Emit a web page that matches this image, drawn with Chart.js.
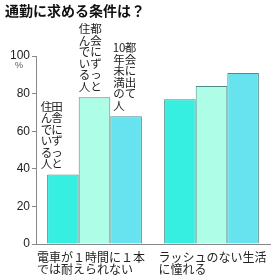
<!DOCTYPE html>
<html>
<head>
<meta charset="utf-8">
<script src="https://cdn.jsdelivr.net/npm/chart.js@4.4.1/dist/chart.umd.min.js"></script>
<style>
  html, body { margin: 0; padding: 0; background: #fff; }
  #wrap { position: relative; width: 280px; height: 280px; }
</style>
</head>
<body>
<div id="wrap"><canvas id="chart" width="280" height="280"></canvas></div>
<script>
    // Chart data
    const title = '通勤に求める条件は？';
    const categories = [
        ['電車が１時間に１本', 'では耐えられない'],
        ['ラッシュのない生活', 'に憧れる']
    ];
    const seriesNames = [
        ['田舎にずっと', '住んでいる人'],
        ['都会にずっと', '住んでいる人'],
        ['都会に出て', '10年未満の人']
    ];
    const inakaValues = [37, 77];
    const tokaiValues = [78, 84];
    const shinkiValues = [68, 91];
    const yTicks = [0, 20, 40, 60, 80, 100];

    const jpFont = '"Noto Sans CJK JP", "Noto Sans", sans-serif';
    const colors = ['#36efe0', '#aefde6', '#66e3ef'];

    // Title, % unit, x labels and vertical series labels
    const textPlugin = {
        id: 'texts',
        afterDraw(chart) {
            const ctx = chart.ctx;
            const xScale = chart.scales.x;
            ctx.save();

            ctx.fillStyle = '#111';
            ctx.font = 'bold 14px ' + jpFont;
            ctx.textAlign = 'left';
            ctx.textBaseline = 'middle';
            ctx.fillText(title, 5, 11);

            ctx.fillStyle = '#555';
            ctx.font = '9px "Liberation Sans", sans-serif';
            ctx.textAlign = 'center';
            ctx.fillText('%', 19, 66);

            // category labels, left aligned
            ctx.fillStyle = '#222';
            ctx.font = '12px ' + jpFont;
            ctx.textAlign = 'left';
            const labelShift = [-57.5, -53];
            categories.forEach((lines, i) => {
                const cx = xScale.getPixelForValue(i);
                lines.forEach((line, j) => {
                    ctx.fillText(line, cx + labelShift[i], 257 + j * 12);
                });
            });

            // vertical labels above the first group of bars
            ctx.font = '11.5px ' + jpFont;
            ctx.textAlign = 'center';
            const colShift = [[-6, -16.5], [1.5, -10], [4.5, -7]];
            const step = 11.5;
            seriesNames.forEach((cols, d) => {
                const bar = chart.getDatasetMeta(d).data[0];
                const cells = cols.map(c => c.match(/\d+|./g));
                const maxLen = Math.max(...cells.map(c => c.length));
                const top = bar.y - 5 - maxLen * step;
                cells.forEach((chars, k) => {
                    const x = bar.x + colShift[d][k];
                    chars.forEach((ch, n) => {
                        ctx.fillText(ch, x, top + n * step + step / 2);
                    });
                });
            });
            ctx.restore();
        }
    };

    new Chart(document.getElementById('chart'), {
        type: 'bar',
        data: {
            labels: categories.map(c => c.join('')),
            datasets: [
                { data: inakaValues, backgroundColor: colors[0] },
                { data: tokaiValues, backgroundColor: colors[1] },
                { data: shinkiValues, backgroundColor: colors[2] }
            ].map(ds => Object.assign(ds, {
                borderColor: '#4d8c8c',
                borderWidth: 1,
                categoryPercentage: 0.81,
                barPercentage: 1
            }))
        },
        options: {
            responsive: false,
            animation: false,
            layout: { padding: { top: 56, right: 10, left: 0, bottom: 0 } },
            plugins: {
                legend: { display: false },
                tooltip: { enabled: false }
            },
            scales: {
                x: {
                    grid: { display: false },
                    border: { display: true, color: '#888' },
                    ticks: { display: false },
                    afterFit(scale) { scale.height = 36; }
                },
                y: {
                    min: 0,
                    max: 100,
                    afterBuildTicks(scale) { scale.ticks = yTicks.map(v => ({ value: v })); },
                    grid: { drawOnChartArea: false, drawTicks: true, tickLength: 4, color: '#888' },
                    border: { display: true, color: '#888' },
                    ticks: {
                        padding: 2,
                        color: '#222',
                        font: { size: 12, family: '"Liberation Sans", sans-serif' }
                    },
                    afterFit(scale) { scale.width = 36; }
                }
            }
        },
        plugins: [textPlugin]
    });
</script>
</body>
</html>
